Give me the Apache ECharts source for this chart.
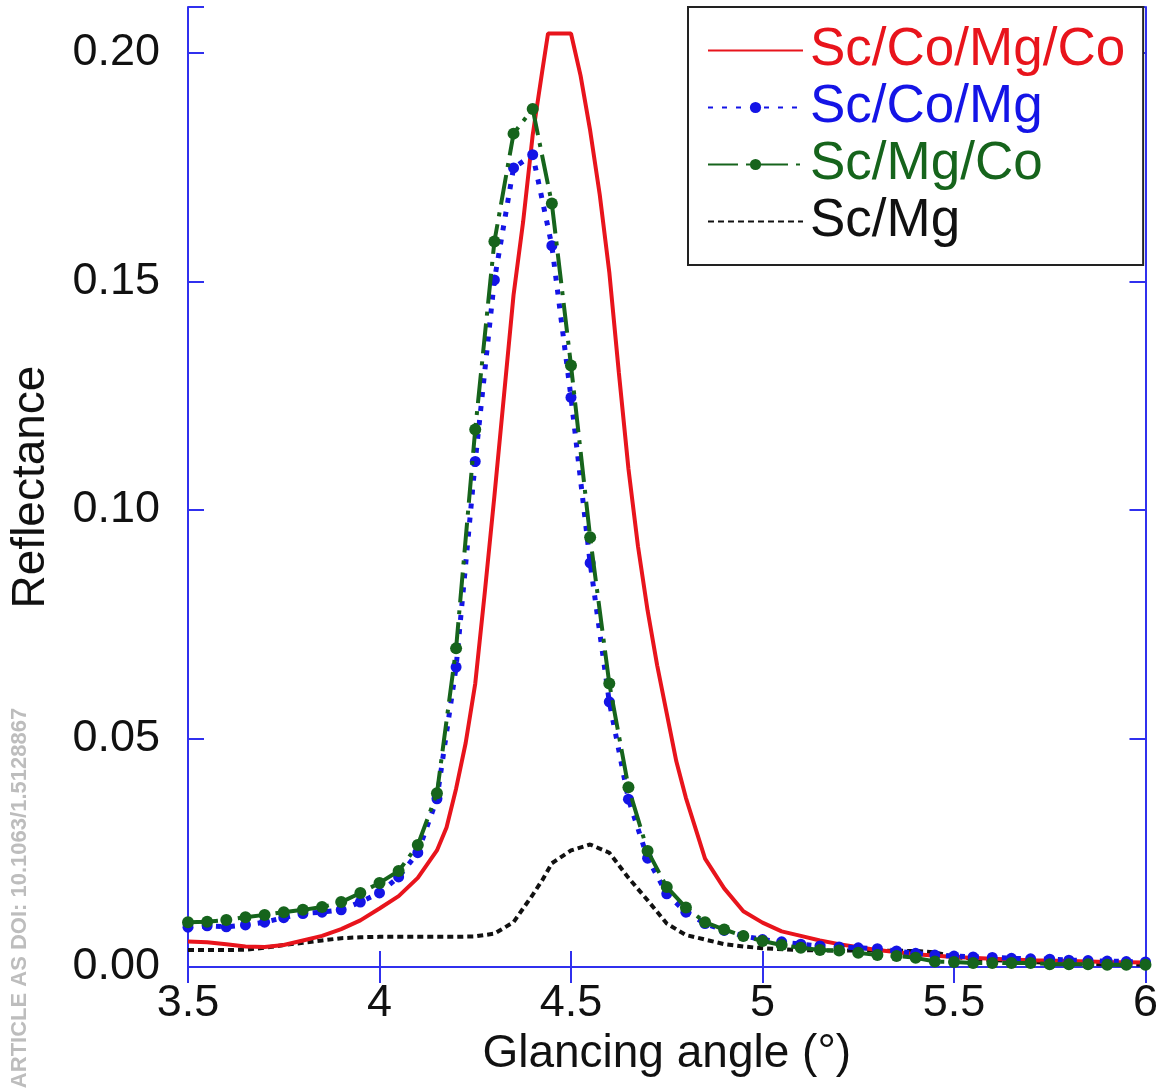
<!DOCTYPE html>
<html>
<head>
<meta charset="utf-8">
<script src="https://cdn.jsdelivr.net/npm/echarts@6/dist/echarts.min.js"></script>
<style>
html,body{margin:0;padding:0;background:#fff;}
#chart{width:1161px;height:1092px;}
</style>
</head>
<body>
<div id="chart"></div>
<script>
// ---- data ----
const xTicks = ['3.5', '4', '4.5', '5', '5.5', '6'];
const yTicks = ['0.00', '0.05', '0.10', '0.15', '0.20'];

const seriesNames = ['Sc/Co/Mg/Co', 'Sc/Co/Mg', 'Sc/Mg/Co', 'Sc/Mg'];

const redAngles = [3.50,3.55,3.60,3.65,3.70,3.75,3.80,3.85,3.90,3.95,4.00,4.05,4.10,4.15,4.175,4.20,4.225,4.25,4.275,4.30,4.325,4.35,4.375,4.40,4.425,4.44,4.475,4.50,4.525,4.55,4.575,4.60,4.625,4.65,4.675,4.70,4.725,4.75,4.775,4.80,4.85,4.90,4.95,5.00,5.05,5.10,5.15,5.20,5.25,5.30,5.40,5.50,5.60,5.70,5.80,5.90,6.00];
const redValues = [0.0056,0.0054,0.0050,0.0045,0.0044,0.0048,0.0058,0.0068,0.0083,0.0102,0.0128,0.0155,0.0195,0.0255,0.0305,0.0390,0.0490,0.0620,0.0820,0.1030,0.1250,0.1470,0.1630,0.1820,0.1960,0.2042,0.2042,0.2042,0.1950,0.1830,0.1690,0.1520,0.1300,0.1090,0.0920,0.0780,0.0660,0.0555,0.0450,0.0370,0.0237,0.0172,0.0122,0.0097,0.0078,0.0068,0.0058,0.0050,0.0043,0.0037,0.0028,0.0022,0.0018,0.0015,0.0013,0.0011,0.0010];

const angles = [3.50,3.55,3.60,3.65,3.70,3.75,3.80,3.85,3.90,3.95,4.00,4.05,4.10,4.15,4.20,4.25,4.30,4.35,4.40,4.45,4.50,4.55,4.60,4.65,4.70,4.75,4.80,4.85,4.90,4.95,5.00,5.05,5.10,5.15,5.20,5.25,5.30,5.35,5.40,5.45,5.50,5.55,5.60,5.65,5.70,5.75,5.80,5.85,5.90,5.95,6.00];
const blueValues = [0.0087,0.0090,0.0088,0.0092,0.0098,0.0108,0.0117,0.0120,0.0125,0.0142,0.0162,0.0197,0.0250,0.0368,0.0656,0.1106,0.1503,0.1748,0.1777,0.1578,0.1246,0.0884,0.0580,0.0367,0.0238,0.0160,0.0120,0.0095,0.0080,0.0068,0.0060,0.0055,0.0050,0.0046,0.0044,0.0042,0.0040,0.0035,0.0030,0.0026,0.0024,0.0022,0.0021,0.0019,0.0018,0.0017,0.0015,0.0014,0.0013,0.0012,0.0011];
const greenValues = [0.0098,0.0099,0.0103,0.0109,0.0114,0.0120,0.0125,0.0131,0.0142,0.0162,0.0184,0.0210,0.0267,0.0380,0.0697,0.1176,0.1587,0.1823,0.1877,0.1670,0.1316,0.0940,0.0620,0.0393,0.0254,0.0175,0.0130,0.0098,0.0082,0.0068,0.0057,0.0048,0.0042,0.0037,0.0036,0.0031,0.0026,0.0024,0.0020,0.0012,0.0011,0.0009,0.0009,0.0009,0.0009,0.0006,0.0006,0.0006,0.0005,0.0005,0.0005];

const blackAngles = [3.50,3.55,3.60,3.65,3.70,3.75,3.80,3.85,3.90,3.95,4.00,4.05,4.10,4.15,4.20,4.25,4.30,4.35,4.40,4.425,4.45,4.50,4.55,4.60,4.65,4.70,4.75,4.80,4.85,4.90,4.95,5.00,5.10,5.20,5.30,5.40,5.45,5.50,5.60,5.70,5.80,5.90,6.00];
const blackValues = [0.0037,0.0037,0.0037,0.0038,0.0042,0.0048,0.0053,0.0058,0.0063,0.0065,0.0066,0.0066,0.0066,0.0066,0.0066,0.0067,0.0073,0.0098,0.0158,0.0190,0.0227,0.0255,0.0268,0.0250,0.0195,0.0146,0.0095,0.0070,0.0060,0.0050,0.0045,0.0041,0.0037,0.0036,0.0036,0.0035,0.0032,0.0022,0.0015,0.0011,0.0008,0.0006,0.0005];

const colors = { red: '#e8141c', blue: '#1414e6', green: '#16641c', black: '#111111' };
const axisColor = '#3030ee';
const FONT = 'Liberation Sans, Arial, sans-serif';

function pairs(xs, ys) { return xs.map((x, i) => [x, ys[i]]); }

const chart = echarts.init(document.getElementById('chart'), null, { renderer: 'canvas' });

const baseAxisLine = { show: true, lineStyle: { color: axisColor, width: 2 } };
const baseTick = { show: true, inside: true, length: 16, lineStyle: { color: axisColor, width: 2 } };

chart.setOption({
  animation: false,
  backgroundColor: '#fff',
  grid: { left: 188, top: 7, width: 958, height: 960, containLabel: false },
  legend: {
    orient: 'vertical',
    left: 688, top: 7,
    padding: [17, 18, 17, 19],
    itemGap: 4,
    itemWidth: 95,
    itemHeight: 14,
    borderColor: '#222',
    borderWidth: 2,
    backgroundColor: '#fff',
    textStyle: { fontFamily: FONT, fontSize: 53, padding: [0, 0, 0, 2] },
    data: [
      { name: seriesNames[0], textStyle: { color: colors.red }, itemStyle: { opacity: 0 } },
      { name: seriesNames[1], textStyle: { color: colors.blue } },
      { name: seriesNames[2], textStyle: { color: colors.green } },
      { name: seriesNames[3], textStyle: { color: colors.black }, itemStyle: { opacity: 0 } }
    ]
  },
  xAxis: [
    {
      type: 'value', position: 'bottom', min: 3.5, max: 6, interval: 0.5,
      axisLine: baseAxisLine, axisTick: baseTick, splitLine: { show: false },
      axisLabel: { color: '#111', fontFamily: FONT, fontSize: 45, margin: 14,
        formatter: v => { const i = Math.round((v - 3.5) / 0.5); return Math.abs(v - 3.5 - i * 0.5) < 1e-6 ? xTicks[i] : ''; } },
      name: 'Glancing angle (°)', nameLocation: 'middle', nameGap: 64,
      nameTextStyle: { color: '#111', fontFamily: FONT, fontSize: 46 }
    },
    {
      type: 'value', position: 'top', min: 3.5, max: 6, interval: 0.5,
      axisLine: baseAxisLine, axisTick: baseTick, axisLabel: { show: false }, splitLine: { show: false }
    }
  ],
  yAxis: [
    {
      type: 'value', position: 'left', min: 0, max: 0.21, interval: 0.05,
      axisLine: baseAxisLine, axisTick: baseTick, splitLine: { show: false },
      axisLabel: { color: '#111', fontFamily: FONT, fontSize: 45, margin: 28,
        formatter: v => { const i = Math.round(v / 0.05); return Math.abs(v - i * 0.05) < 1e-6 && i < yTicks.length ? yTicks[i] : ''; } },
      name: 'Reflectance', nameLocation: 'middle', nameGap: 134,
      nameTextStyle: { color: '#111', fontFamily: FONT, fontSize: 46 }
    },
    {
      type: 'value', position: 'right', min: 0, max: 0.21, interval: 0.05,
      axisLine: baseAxisLine, axisTick: baseTick, axisLabel: { show: false }, splitLine: { show: false }
    }
  ],
  series: [
    {
      name: seriesNames[3], type: 'line', data: pairs(blackAngles, blackValues),
      showSymbol: false, symbol: 'none', smooth: false,
      lineStyle: { color: colors.black, width: 4, type: [6, 4] },
      itemStyle: { color: colors.black }, z: 2
    },
    {
      name: seriesNames[0], type: 'line', data: pairs(redAngles, redValues),
      showSymbol: false, symbol: 'none',
      lineStyle: { color: colors.red, width: 4 },
      itemStyle: { color: colors.red }, z: 3
    },
    {
      name: seriesNames[1], type: 'line', data: pairs(angles, blueValues),
      symbol: 'circle', symbolSize: 11,
      lineStyle: { color: colors.blue, width: 5, type: [5, 9] },
      itemStyle: { color: colors.blue }, z: 4
    },
    {
      name: seriesNames[2], type: 'line', data: pairs(angles, greenValues),
      symbol: 'circle', symbolSize: 12,
      lineStyle: { color: colors.green, width: 4, type: [30, 8, 4, 8] },
      itemStyle: { color: colors.green }, z: 5
    }
  ],
  graphic: [
    {
      type: 'text', x: 20, y: 898, rotation: Math.PI / 2,
      style: { text: 'ARTICLE AS DOI: 10.1063/1.5128867', fill: '#bdbdbd',
        font: 'bold 22px "Liberation Sans", Arial, sans-serif', align: 'center', verticalAlign: 'middle' }
    }
  ]
});
</script>
</body>
</html>
